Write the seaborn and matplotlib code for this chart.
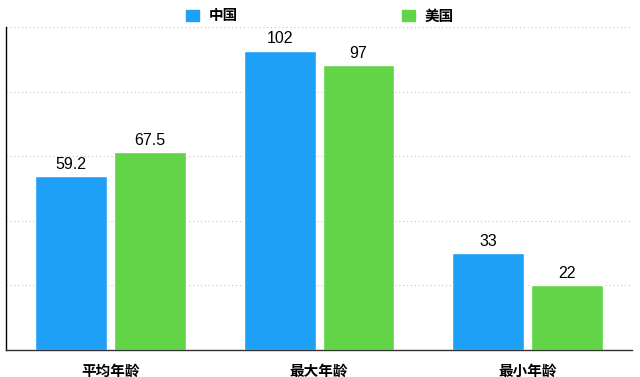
import pandas as pd
import matplotlib.pyplot as plt
import seaborn as sns
from matplotlib.patches import Patch

categories = ["平均年龄", "最大年龄", "最小年龄"]
series_names = ["中国", "美国"]
china = [59.2, 102, 33]
usa = [67.5, 97, 22]
colors = ["#1ea0f6", "#62d448"]

df = pd.DataFrame({
    "类别": categories * 2,
    "国家": [series_names[0]] * 3 + [series_names[1]] * 3,
    "年龄": china + usa,
})

sns.set_style("white")
plt.rcParams["font.family"] = ["Noto Sans CJK SC", "DejaVu Sans"]
plt.rcParams["text.color"] = "black"
plt.rcParams["xtick.color"] = "black"

fig, ax = plt.subplots(figsize=(6.4, 3.77), dpi=100)
fig.subplots_adjust(left=0.009, right=0.988, top=0.928, bottom=0.072)

sns.barplot(data=df, x="类别", y="年龄", hue="国家", palette=colors,
            width=0.756, gap=0.089, saturation=1, ax=ax, legend=False)

for cont in ax.containers:
    ax.bar_label(cont, labels=[f"{v:g}" for v in cont.datavalues],
                 padding=3, fontsize=11.5, color="black",
                 family=["Liberation Sans", "DejaVu Sans"])

ax.set_ylim(0, 110)
ax.set_xlim(-0.5, 2.5)
ax.set_yticks(range(0, 111, 22))
ax.set_yticklabels([])
ax.tick_params(axis="y", length=0)
ax.tick_params(axis="x", length=0, pad=9, labelcolor="black")
for lab in ax.get_xticklabels():
    lab.set_fontweight("bold")
    lab.set_fontsize(10.5)
ax.set_xlabel("")
ax.set_ylabel("")
ax.grid(axis="y", color="#c4c4c4", linestyle=(0, (1, 2.5)), linewidth=0.8)
ax.set_axisbelow(True)
for s in ["top", "right"]:
    ax.spines[s].set_visible(False)
ax.spines["left"].set_color("black")
ax.spines["bottom"].set_color("#333333")
ax.spines["left"].set_linewidth(1)
ax.spines["bottom"].set_linewidth(1)

handles = [Patch(color=c) for c in colors]
fig.legend(handles, series_names, loc="upper center", bbox_to_anchor=(0.5, 1.015),
           ncol=2, frameon=False, columnspacing=11.3, handlelength=0.85,
           handleheight=0.85, handletextpad=0.65,
           prop={"weight": "bold", "size": 10.5})

fig.savefig("out.png", dpi=100)
